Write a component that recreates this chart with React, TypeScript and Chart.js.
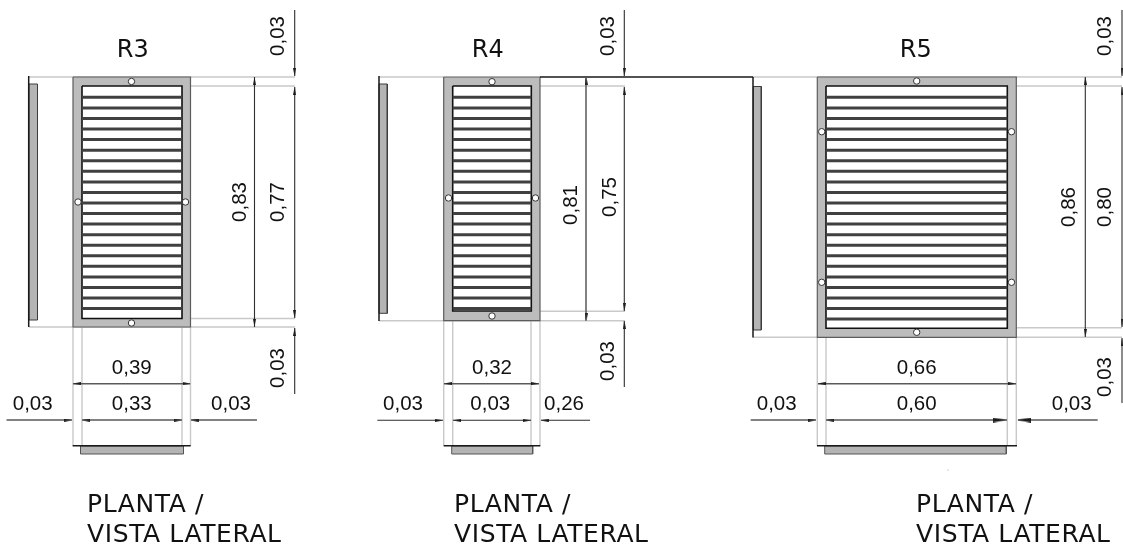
import React, { useEffect, useRef } from "react";
import { Chart, registerables } from "chart.js";

Chart.register(...registerables);

type Seg = [number, number, number, number];
type Arrow = [number, number, number];
type Dot = [number, number];
type Label = [string, number, number, number];

// outer frames, inner openings, side-view and plan-view plates: [x0, y0, x1, y1]
const frames: Seg[] = [[73, 77, 190.5, 327], [443.7, 77, 540, 320.7], [817.3, 77, 1016.3, 337.3]];
const openings: Seg[] = [[82, 86, 182, 318.5], [452.7, 86, 531.3, 311], [826, 86, 1007.3, 328.3]];
const sidePlates: Seg[] = [[29, 84, 37.5, 320], [379, 84, 387.3, 313.3], [753.3, 86.5, 761.3, 330]];
const planPlates: Seg[] = [[80.5, 446, 183.5, 454], [451.7, 446, 532.7, 454], [824.7, 446, 1006.3, 454]];

// louvre slat heights
const slatsR3 = [97.3, 108, 118.5, 129, 139.6, 150.2, 160.7, 171.3, 181.9, 192.4, 203, 213.5, 224.1, 234.7, 245.2, 255.8, 266.3, 276.9, 287.4, 298, 308.5];
const slatsR4 = slatsR3.slice(0, 21);
const slatsR5 = [...slatsR3, 319.1];

// fixing holes
const holes: Dot[] = [
  [131.5, 81.5], [131.5, 323], [78, 202], [185.5, 202],
  [492, 81.7], [492, 316], [448.5, 198], [535.5, 198],
  [916.7, 81], [916.7, 332.3], [821.7, 131.7], [1011.5, 131.7], [821.7, 282.3], [1011.5, 282.3],
];
const specks: Dot[] = [[948, 470]];

// light extension lines
const extensionLines: Seg[] = [
  [29, 77, 295, 77], [29, 327, 295, 327], [190.5, 86, 295, 86], [190.5, 318.5, 295, 318.5],
  [73, 327, 73, 446], [82, 327, 82, 446], [182, 327, 182, 446], [190.5, 327, 190.5, 446],
  [379, 77, 444, 77], [379, 320.7, 625, 320.7], [540, 86, 625, 86], [540, 311.3, 625, 311.3],
  [443.7, 320, 443.7, 446], [452.7, 320, 452.7, 446], [531, 320, 531, 446], [540, 320, 540, 446],
  [753, 77, 1122, 77], [753, 337.3, 1122, 337.3], [1016, 86, 1122, 86], [1016, 327.7, 1122, 327.7],
  [817.3, 337, 817.3, 446], [826, 337, 826, 446], [1007.3, 337, 1007.3, 446], [1016.3, 337, 1016.3, 446],
];

// heavy object outlines
const objectLines: Seg[] = [
  [28.7, 76, 28.7, 327], [379, 76, 379, 321], [753, 77, 753, 337.5],
  [540, 77, 753, 77],
  [72.7, 445.7, 190.7, 445.7], [443.7, 445.7, 540.3, 445.7], [817, 445.7, 1017, 445.7],
];

// dimension lines
const dimensionLines: Seg[] = [
  [254.5, 77, 254.5, 327], [294.7, 10, 294.7, 76], [294.7, 87, 294.7, 318], [294.7, 328, 294.7, 394],
  [624.3, 10, 624.3, 76], [624.3, 87, 624.3, 311], [624.3, 321, 624.3, 387],
  [377.3, 420.3, 443, 420.3], [453, 420.3, 531, 420.3], [541, 420.3, 590, 420.3],
  [1085.3, 77, 1085.3, 337], [1122, 10, 1122, 76], [1122, 87, 1122, 327], [1122, 338, 1122, 403],
];
const greyDimensionLines: Seg[] = [
  [73, 383.7, 190, 383.7], [6.5, 420, 72, 420], [82, 420, 182, 420], [191, 420, 257, 420],
  [586, 77, 586, 320.7], [444, 383.7, 539, 383.7],
  [818, 383.7, 1016, 383.7], [750.7, 420, 816, 420], [826, 420, 1007, 420], [1018, 420, 1097.7, 420],
];

// arrowheads: [x, y, rotation in degrees]
const smallArrows: Arrow[] = [
  [254.5, 81, 270], [254.5, 323, 90], [294.7, 72, 90], [294.7, 91, 270], [294.7, 314, 90], [294.7, 332, 270],
  [77, 383.7, 180], [186.5, 383.7, 0], [68, 420, 0], [86, 420, 180], [178, 420, 0], [194.5, 420, 180],
  [586, 81, 270], [586, 317, 90], [624.3, 72, 90], [624.3, 91, 270], [624.3, 307, 90], [624.3, 325, 270],
  [448, 383.7, 180], [535, 383.7, 0], [439, 420.3, 0], [457, 420.3, 180], [527, 420.3, 0], [544.5, 420.3, 180],
  [1085.3, 81, 270], [1085.3, 333, 90], [1122, 72, 90], [1122, 91, 270], [1122, 323, 90], [1122, 342, 270],
  [821.5, 383.7, 180], [1012, 383.7, 0], [812, 420, 0], [830, 420, 180],
];
const largeArrows: Arrow[] = [[999.5, 420, 0], [1024, 420, 180]];

// texts: [text, x, y, rotation in degrees]
const dimensionLabels: Label[] = [
  ["0,03", 278, 36, -90], ["0,83", 240, 202, -90], ["0,77", 278, 202, -90], ["0,03", 278, 368, -90],
  ["0,39", 131.8, 368, 0], ["0,33", 131.8, 404, 0], ["0,03", 32.7, 404, 0], ["0,03", 231, 404, 0],
  ["0,03", 608.3, 36, -90], ["0,81", 571, 205, -90], ["0,75", 610, 197, -90], ["0,03", 608.3, 361, -90],
  ["0,32", 492, 368, 0], ["0,03", 490.3, 404, 0], ["0,03", 403, 404, 0], ["0,26", 564, 404, 0],
  ["0,03", 1105.7, 36, -90], ["0,86", 1069, 207, -90], ["0,80", 1105.7, 207, -90], ["0,03", 1105.7, 377, -90],
  ["0,66", 916.7, 368, 0], ["0,60", 916.7, 404, 0], ["0,03", 776.7, 404, 0], ["0,03", 1071.7, 404, 0],
];
const titleLabels: Label[] = [["R3", 132.7, 51, 0], ["R4", 487.7, 51, 0], ["R5", 915.7, 51, 0]];
const captionLines = ["PLANTA /", "VISTA LATERAL"];
const captionX = [87, 454, 916];
const captionY = [511.7, 541.7];

const GAP = { x: NaN, y: NaN };
const segs = (list: Seg[]) => list.flatMap(([a, b, c, d]) => [{ x: a, y: b }, { x: c, y: d }, GAP]);
const slatSegs = (ys: number[], o: Seg) => segs(ys.map((y) => [o[0], y, o[2], y] as Seg));
const box = ([a, b, c, d]: Seg) => [
  { x: a, y: b }, { x: c, y: b }, { x: c, y: d }, { x: a, y: d }, { x: a, y: b },
];

const base = {
  type: "scatter" as const,
  showLine: true,
  pointRadius: 0,
  tension: 0,
  fill: false,
  borderCapStyle: "butt" as const,
  spanGaps: false,
};
const lines = (data: any[], color: string, width: number) => ({
  ...base, data, borderColor: color, borderWidth: width,
});
const rect = (r: Seg, fill: string, stroke: string, width: number) => ({
  ...base, data: box(r), fill: "shape", backgroundColor: fill, borderColor: stroke, borderWidth: width,
});

function arrowCanvas(len: number, wid: number) {
  const c = document.createElement("canvas");
  c.width = len;
  c.height = wid;
  const g = c.getContext("2d")!;
  g.fillStyle = "#1c1c1c";
  g.beginPath();
  g.moveTo(len, wid / 2);
  g.lineTo(0, 0);
  g.lineTo(0, wid);
  g.closePath();
  g.fill();
  return c;
}

const arrows = (list: Arrow[], canvas: HTMLCanvasElement) => ({
  type: "scatter" as const,
  showLine: false,
  data: list.map(([x, y]) => ({ x, y })),
  pointStyle: canvas,
  pointRadius: 4,
  pointRotation: list.map((a) => a[2]),
});

const textPlugin = {
  id: "drawingText",
  afterDatasetsDraw(chart: any) {
    const { ctx, scales } = chart;
    const put = (t: string, x: number, y: number, rot: number, font: string, align: CanvasTextAlign, bl: CanvasTextBaseline, spacing = "0px") => {
      ctx.save();
      ctx.translate(scales.x.getPixelForValue(x), scales.y.getPixelForValue(y));
      ctx.rotate((rot * Math.PI) / 180);
      ctx.font = font;
      ctx.letterSpacing = spacing;
      ctx.fillStyle = "#111111";
      ctx.textAlign = align;
      ctx.textBaseline = bl;
      ctx.fillText(t, 0, 0);
      ctx.restore();
    };
    dimensionLabels.forEach(([t, x, y, r]) => put(t, x, y, r, '20.5px "Liberation Sans"', "center", "middle"));
    titleLabels.forEach(([t, x, y, r]) => put(t, x, y, r, '24px "DejaVu Sans"', "center", "middle"));
    captionX.forEach((x) =>
      captionLines.forEach((t, i) => put(t, x, captionY[i], 0, '25px "DejaVu Sans"', "left", "alphabetic", "0.6px"))
    );
  },
};

const whiteBackground = {
  id: "whiteBackground",
  beforeDraw(chart: any) {
    const { ctx, width, height } = chart;
    ctx.save();
    ctx.fillStyle = "#ffffff";
    ctx.fillRect(0, 0, width, height);
    ctx.restore();
  },
};

export default function App() {
  const ref = useRef<HTMLCanvasElement>(null);
  useEffect(() => {
    const small = arrowCanvas(8, 3);
    const large = arrowCanvas(14, 5);
    const ordered: any[] = [
      lines(segs(extensionLines), "#c9c9c9", 1.4),
      ...sidePlates.map((r) => rect(r, "#b4b4b4", "#3c3c3c", 1)),
      ...planPlates.map((r) => rect(r, "#b4b4b4", "#555555", 1)),
      ...frames.map((r) => rect(r, "#bcbcbc", "#5c5c5c", 1.2)),
      ...openings.map((r) => rect(r, "#ffffff", "#111111", 1.6)),
      lines(slatSegs(slatsR3, openings[0]), "#404040", 3),
      lines(slatSegs(slatsR4, openings[1]), "#404040", 3),
      lines(slatSegs(slatsR5, openings[2]), "#404040", 3),
      lines(segs(objectLines), "#1a1a1a", 1.5),
      lines(segs(dimensionLines), "#2e2e2e", 1.1),
      lines(segs(greyDimensionLines), "#5a5a5a", 1.5),
      arrows(smallArrows, small),
      arrows(largeArrows, large),
      {
        type: "scatter" as const,
        showLine: false,
        data: holes.map(([x, y]) => ({ x, y })),
        pointStyle: "circle",
        pointRadius: 3.2,
        pointBackgroundColor: "#ffffff",
        pointBorderColor: "#333333",
        pointBorderWidth: 1,
      },
      {
        type: "scatter" as const,
        showLine: false,
        data: specks.map(([x, y]) => ({ x, y })),
        pointStyle: "circle",
        pointRadius: 0.6,
        pointBackgroundColor: "#999999",
        pointBorderWidth: 0,
      },
    ];
    const datasets = ordered.map((d, i) => ({ ...d, order: ordered.length - i, clip: false }));
    const chart = new Chart(ref.current!, {
      type: "scatter",
      data: { datasets },
      options: {
        animation: false,
        responsive: false,
        devicePixelRatio: 1,
        layout: { padding: 0, autoPadding: false },
        events: [],
        scales: {
          x: { type: "linear", min: 0, max: 1123, display: false },
          y: { type: "linear", min: 0, max: 545, reverse: true, display: false },
        },
        plugins: { legend: { display: false }, tooltip: { enabled: false }, title: { display: false } },
      },
      plugins: [whiteBackground, textPlugin],
    } as any);
    return () => chart.destroy();
  }, []);
  return (
    <div style={{ position: "fixed", left: 0, top: 0, width: 1123, height: 545 }}>
      <canvas ref={ref} width={1123} height={545} style={{ display: "block" }} />
    </div>
  );
}
